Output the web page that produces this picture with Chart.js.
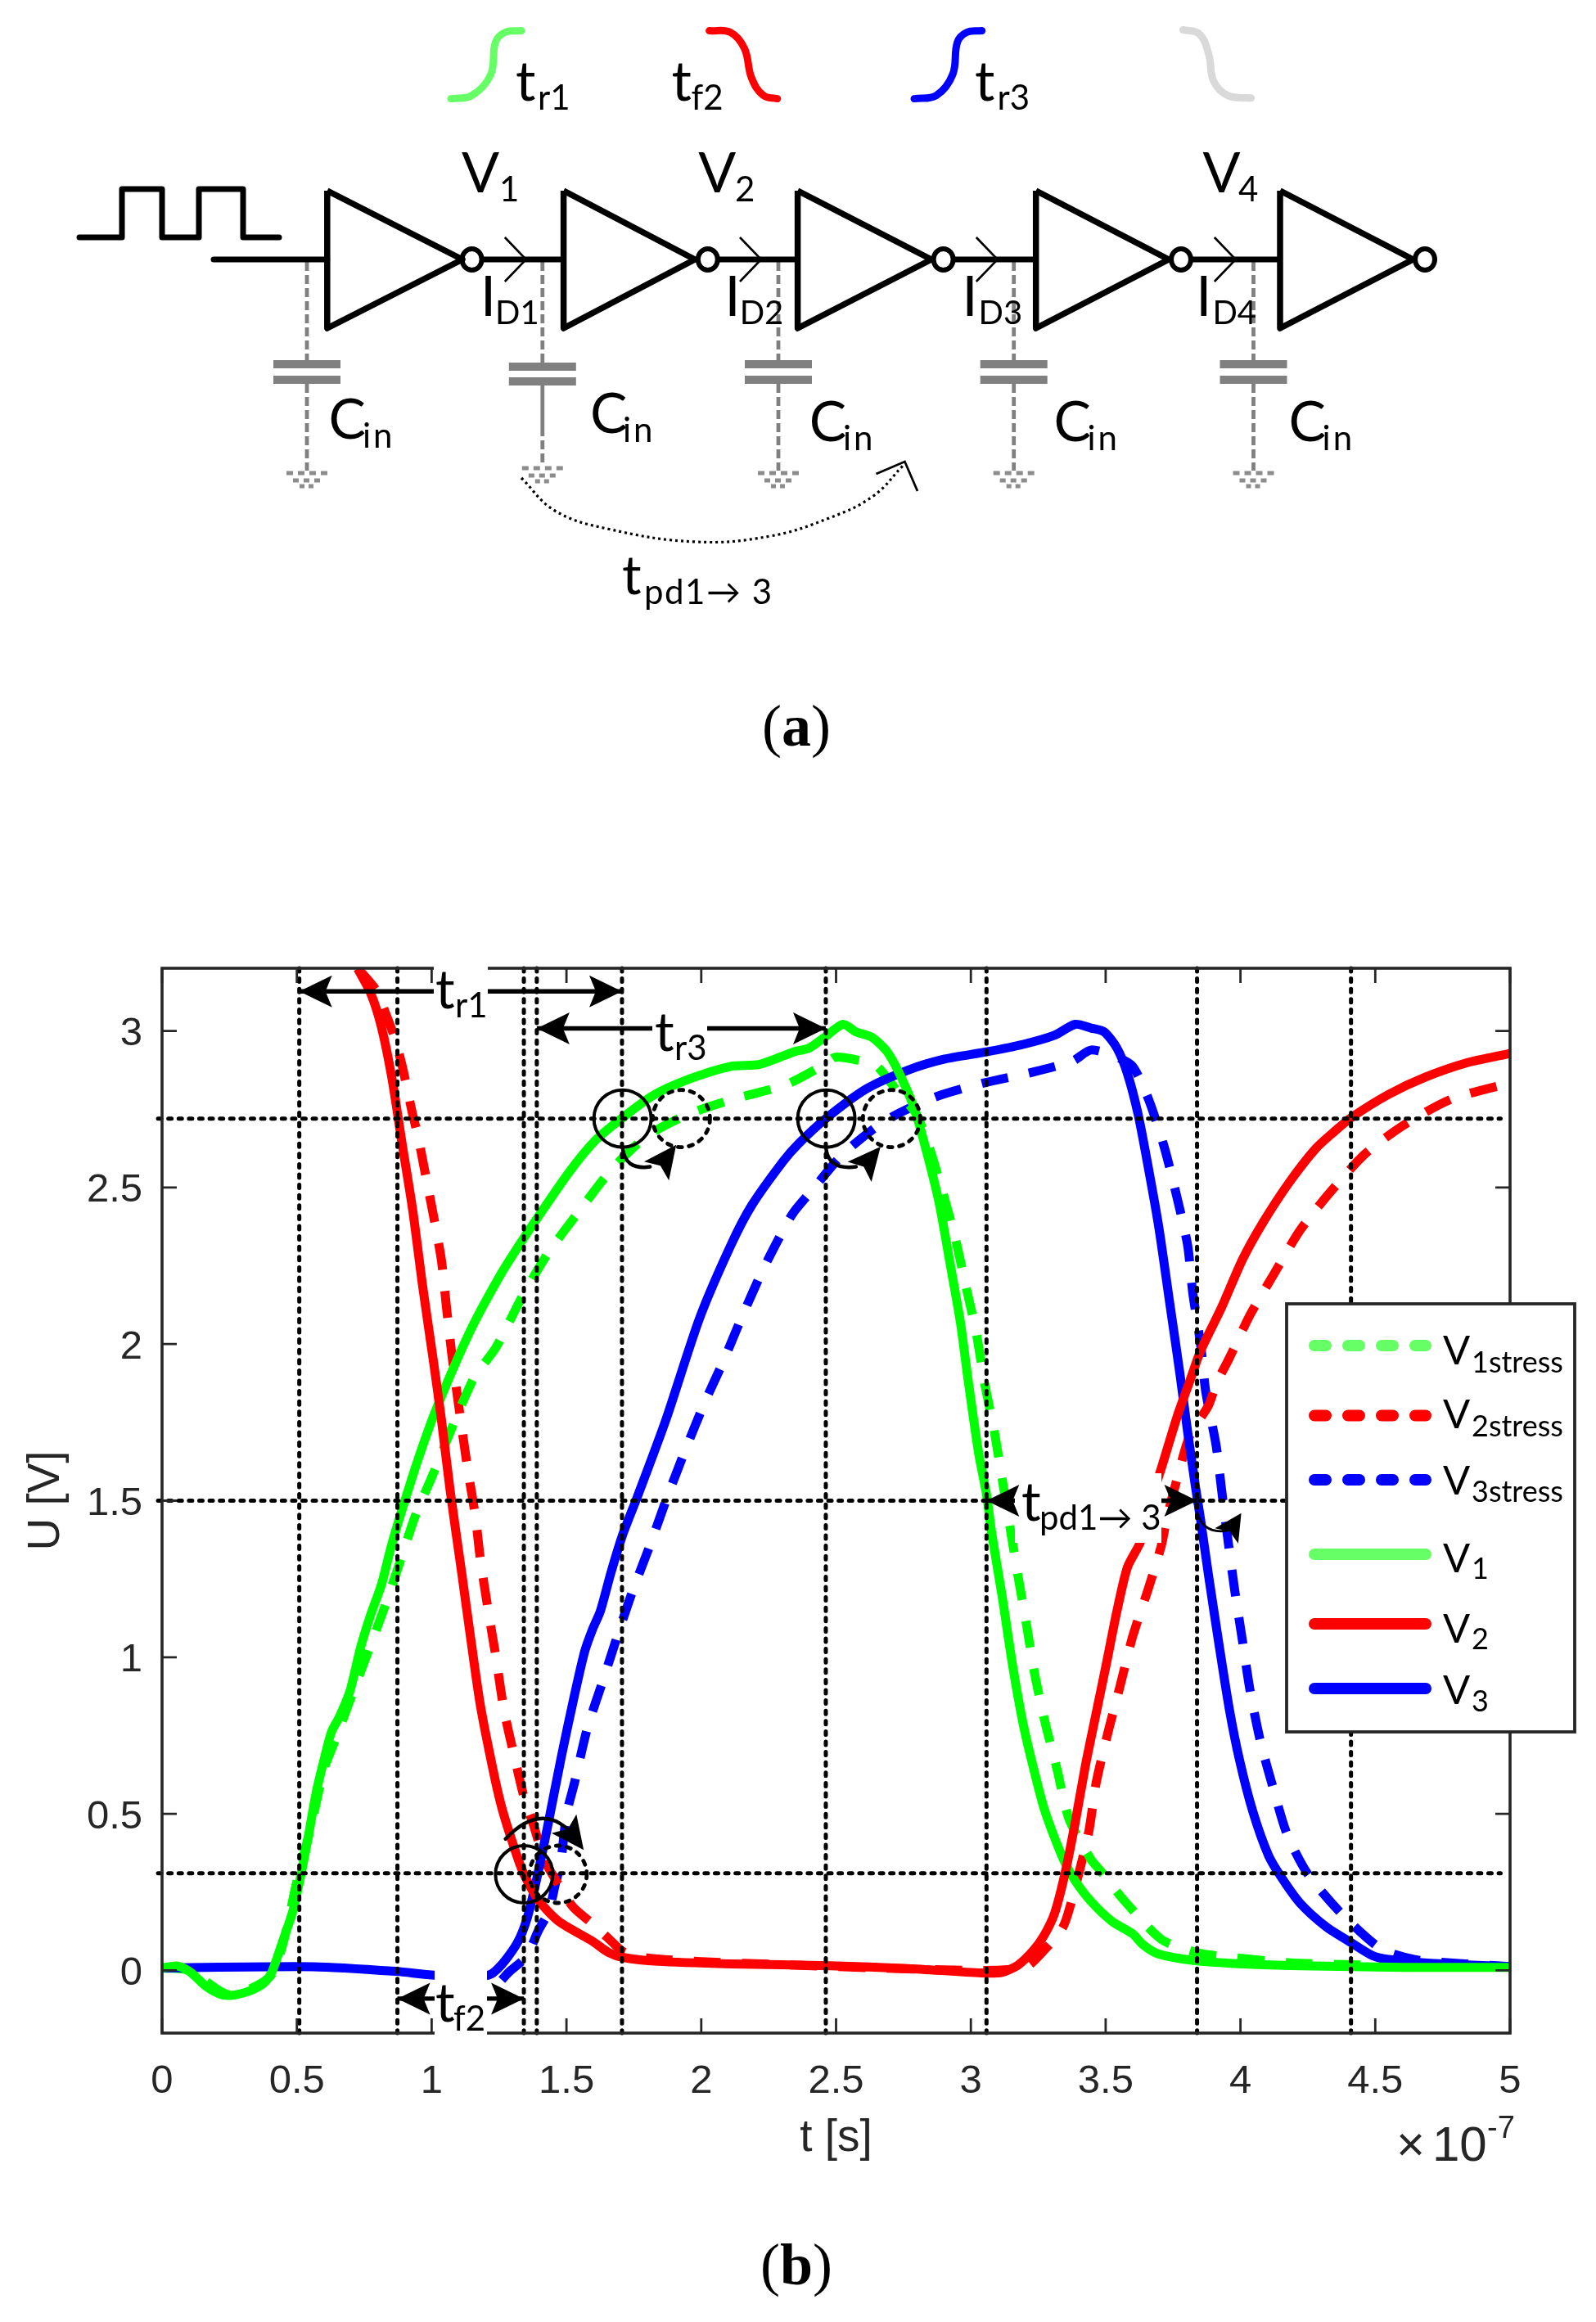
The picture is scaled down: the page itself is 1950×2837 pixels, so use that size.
<!DOCTYPE html>
<html>
<head>
<meta charset="utf-8">
<title>Inverter chain waveforms</title>
<script src="https://cdn.jsdelivr.net/npm/chart.js@4/dist/chart.umd.min.js"></script>
<style>
html,body{margin:0;padding:0;background:#fff}
#wrap{position:relative;width:1950px;height:2837px;overflow:hidden}
canvas{position:absolute;left:0;top:0}
</style>
</head>
<body>
<div id="wrap">
<canvas id="plot" width="1950" height="2837"></canvas>
<canvas id="schem" width="1950" height="950"></canvas>
</div>
<script>
/* ---------- waveform data: time in units of 1e-7 s, voltage in V ---------- */
const xTickValues=[0,0.5,1,1.5,2,2.5,3,3.5,4,4.5,5];
const yTickValues=[0,0.5,1,1.5,2,2.5,3];

const t1=[0,.058,.106,.165,.223,.271,.329,.378,.407,.445,.484,.513,.542,.571,.6,.629,.658,.697,.736,.774,.813,.852,.89,.949,1.016,1.142,1.258,1.342,1.39,1.51,1.607,1.704,1.82,1.955,2.11,2.217,2.343,2.40,2.458,2.526,2.574,2.632,2.69,2.748,2.797,2.845,2.884,2.923,2.961,2.99,3.029,3.058,3.078,3.116,3.155,3.194,3.232,3.271,3.31,3.349,3.387,3.445,3.523,3.6,3.639,3.697,3.833,4.026,4.22,4.607,5];
const u1=[.008,.014,-.006,-.052,-.078,-.078,-.064,-.04,-.006,.087,.186,.297,.425,.565,.67,.763,.81,.892,1.03,1.136,1.23,1.36,1.47,1.63,1.79,2.04,2.225,2.339,2.40,2.549,2.65,2.72,2.793,2.846,2.887,2.893,2.933,2.945,2.98,3.021,2.997,2.98,2.933,2.84,2.735,2.584,2.444,2.257,2.071,1.884,1.651,1.52,1.393,1.195,.973,.787,.647,.519,.425,.344,.286,.221,.157,.117,.082,.052,.031,.02,.015,.01,.01];

const t2=[.726,.774,.813,.852,.89,.929,.968,1.007,1.036,1.069,1.113,1.142,1.181,1.229,1.257,1.287,1.336,1.394,1.471,1.597,1.655,1.713,1.839,2.11,2.477,2.768,3.039,3.116,3.175,3.232,3.271,3.31,3.349,3.387,3.426,3.465,3.504,3.542,3.581,3.63,3.659,3.711,3.765,3.813,3.852,3.93,4.007,4.085,4.18,4.28,4.35,4.414,4.549,4.685,4.84,5];
const u2=[3.198,3.12,3.015,2.852,2.642,2.432,2.176,1.943,1.76,1.53,1.26,1.078,.845,.635,.53,.443,.32,.227,.157,.093,.058,.041,.029,.021,.015,.006,-.008,-.006,.017,.064,.111,.181,.309,.472,.659,.822,.985,1.148,1.288,1.37,1.474,1.616,1.768,1.884,1.978,2.117,2.269,2.39,2.515,2.625,2.68,2.725,2.797,2.852,2.898,2.928];

const t3=[0,.561,.871,1.011,1.21,1.258,1.317,1.355,1.394,1.433,1.481,1.53,1.568,1.597,1.626,1.665,1.708,1.762,1.868,1.994,2.11,2.188,2.304,2.361,2.462,2.613,2.768,2.903,3.058,3.194,3.31,3.387,3.446,3.494,3.542,3.581,3.62,3.659,3.697,3.736,3.775,3.804,3.833,3.852,3.881,3.92,3.959,3.997,4.046,4.104,4.152,4.22,4.317,4.414,4.491,4.549,4.704,5];
const u3=[.008,.012,-.003,-.015,-.015,.017,.087,.169,.309,.472,.682,.88,1.02,1.09,1.148,1.27,1.39,1.51,1.756,2.083,2.316,2.444,2.584,2.64,2.72,2.815,2.875,2.91,2.933,2.957,2.986,3.021,3.009,2.997,2.945,2.863,2.735,2.56,2.374,2.141,1.908,1.72,1.545,1.44,1.265,1.043,.833,.67,.507,.367,.297,.216,.14,.087,.047,.035,.023,.012];

const t1s=[0,.1,.25,.4,.45,.5,.55,.6,.639,.755,.823,.881,.939,.997,1.152,1.239,1.336,1.433,1.539,1.665,1.80,1.955,2.12,2.313,2.458,2.497,2.594,2.652,2.729,2.797,2.845,2.894,2.942,2.981,3.02,3.049,3.087,3.116,3.145,3.175,3.207,3.236,3.275,3.32,3.364,3.445,3.484,3.571,3.707,3.833,3.91,4.22,5];
const u1s=[.008,.0,-.078,-.02,.09,.285,.45,.64,.728,.996,1.154,1.3,1.451,1.568,1.884,1.99,2.152,2.292,2.415,2.555,2.665,2.735,2.782,2.828,2.893,2.916,2.904,2.887,2.805,2.735,2.63,2.49,2.339,2.187,2.036,1.884,1.721,1.57,1.416,1.259,1.101,.95,.793,.641,.484,.355,.315,.221,.099,.058,.047,.023,.01];

const t2s=[.726,.794,.832,.862,.891,.929,.949,.978,1.007,1.036,1.055,1.075,1.104,1.133,1.162,1.181,1.21,1.239,1.268,1.307,1.346,1.375,1.42,1.479,1.525,1.595,1.661,1.71,1.8,2.0,3.0,3.2,3.271,3.339,3.368,3.436,3.465,3.513,3.552,3.6,3.658,3.707,3.726,3.765,3.813,3.881,3.91,3.958,4.036,4.123,4.22,4.327,4.462,4.607,4.782,5];
const u2s=[3.2,3.13,3.05,2.98,2.887,2.735,2.665,2.537,2.409,2.269,2.117,1.966,1.78,1.605,1.451,1.311,1.148,.997,.833,.682,.542,.472,.35,.263,.202,.15,.098,.06,.04,.028,.0,.01,.064,.134,.204,.437,.6,.775,.903,1.066,1.218,1.358,1.44,1.57,1.71,1.803,1.873,1.954,2.094,2.222,2.362,2.479,2.607,2.7,2.782,2.834];

const t3s=[1.26,1.286,1.353,1.394,1.435,1.458,1.479,1.5,1.53,1.578,1.636,1.684,1.743,1.81,1.868,1.936,2.013,2.081,2.149,2.227,2.303,2.342,2.41,2.526,2.681,2.865,3.049,3.233,3.378,3.446,3.542,3.6,3.659,3.717,3.765,3.804,3.823,3.852,3.871,3.91,3.93,3.949,3.978,4.007,4.036,4.075,4.123,4.172,4.249,4.375,4.52,4.646,4.8,5];
const u3s=[-.03,-.006,.046,.124,.19,.273,.346,.497,.6,.775,.927,1.055,1.206,1.358,1.498,1.651,1.814,1.943,2.083,2.234,2.362,2.42,2.49,2.607,2.712,2.788,2.834,2.869,2.904,2.939,2.916,2.887,2.782,2.63,2.467,2.316,2.164,2.0,1.85,1.675,1.535,1.405,1.218,1.055,.892,.728,.577,.437,.309,.181,.07,.035,.023,.012];

/* measurement guides */
const guideTimes=[.509,.873,1.342,1.39,1.706,2.462,3.058,3.839,4.41];
const guideLevels=[2.72,1.5,.31];
const spanArrows=[[.509,1.706,3.126],[1.39,2.462,3.008],[.873,1.342,-.09],[3.058,3.839,1.5]];
const solidCircles=[[1.708,2.72],[2.464,2.72],[1.343,.307]];
const dottedCircles=[[1.926,2.72],[2.706,2.72],[1.469,.307]];
const bentTails=[[1.708,2.63,1.714,2.555,1.81,2.566,4.5],[2.462,2.63,2.468,2.555,2.574,2.566,4.5],[1.274,.42,1.394,.53,1.5,.455,4.5],[3.839,1.463,3.862,1.393,3.949,1.404,2.8]];
const bentHeads=[[1.907,2.636,-53,40,19],[2.665,2.63,-50,40,19],[1.564,.385,53,40,19],[4.003,1.46,-57,33,17]];

const GREEN='#00ff00',RED='#ff0000',BLUE='#0000ff',LGREEN='#66ff66',GREY='#808080',INK='#262626';
const BODY='Lato, "Open Sans", sans-serif';
const SANS='"Liberation Sans", Arial, sans-serif';

function zip(a,b){return a.map((x,i)=>({x:x,y:b[i]}));}
function curve(lbl,ts,us,color,dashed){
  return {label:lbl,data:zip(ts,us),borderColor:color,borderWidth:11,pointRadius:0,tension:.25,
    borderDash:dashed?[33,26]:[],borderCapStyle:'butt',borderJoinStyle:'round',fill:false};
}
function guide(data){
  return {label:'guide',data:data,borderColor:'#000',borderWidth:5,pointRadius:0,tension:0,
    borderDash:[4,8.6],borderCapStyle:'round',clip:false,fill:false};
}
const datasets=[
  ...guideLevels.map(v=>guide([{x:-.015,y:v},{x:4.965,y:v}])),
  ...guideTimes.map(t=>guide([{x:t,y:3.2},{x:t,y:-.2}])),
  curve('V2',t2,u2,RED,false),
  curve('V1',t1,u1,GREEN,false),
  curve('V3',t3,u3,BLUE,false),
  curve('V1stress',t1s,u1s,GREEN,true),
  curve('V2stress',t2s,u2s,RED,true),
  curve('V3stress',t3s,u3s,BLUE,true)
];

function sub(ctx,base,s,x,y,sx,sy,size,ssize,spacing){
  ctx.fillStyle='#000';ctx.textAlign='left';ctx.textBaseline='alphabetic';
  ctx.font=size+'px '+BODY;ctx.fillText(base,x,y);
  ctx.font=ssize+'px '+BODY;
  ctx.letterSpacing=(spacing||0)+'px';
  ctx.fillText(s,sx,sy);
  ctx.letterSpacing='0px';
}
function head(ctx,x,y,deg,L,W){
  ctx.save();ctx.translate(x,y);ctx.rotate(deg*Math.PI/180);
  ctx.fillStyle='#000';ctx.beginPath();ctx.moveTo(0,0);ctx.lineTo(-L,-W);ctx.lineTo(-L*.8,0);ctx.lineTo(-L,W);ctx.closePath();ctx.fill();
  ctx.restore();
}
function parenLabel(ctx,letter,cx,y){
  ctx.fillStyle='#000';ctx.textBaseline='alphabetic';ctx.textAlign='left';
  const reg='72px "Liberation Serif", serif',bold='bold 72px "Liberation Serif", serif';
  ctx.font=reg;const p=ctx.measureText('(').width,q=ctx.measureText(')').width;
  ctx.font=bold;const m=ctx.measureText(letter).width;
  let x=cx-(p+q+m)/2;
  ctx.font=reg;ctx.fillText('(',x,y);x+=p;
  ctx.font=bold;ctx.fillText(letter,x,y);x+=m;
  ctx.font=reg;ctx.fillText(')',x,y);
}

const overlay={id:'overlay',
beforeDraw(c){
  /* MATLAB-style tick digits sit a little lower than the canvas "middle" baseline */
  c.scales.y.getLabelItems(c.chartArea).forEach(i=>{i.textOffset+=4;});
},
afterDatasetsDraw(c){
  const ctx=c.ctx,X=c.scales.x,Y=c.scales.y,a=c.chartArea;
  const px=v=>X.getPixelForValue(v),py=v=>Y.getPixelForValue(v);
  ctx.save();
  /* axes box and inward ticks */
  ctx.strokeStyle=INK;ctx.lineWidth=3.6;ctx.strokeRect(a.left,a.top,a.right-a.left,a.bottom-a.top);
  ctx.lineWidth=2.8;ctx.beginPath();
  xTickValues.forEach(v=>{const x=px(v);ctx.moveTo(x,a.top);ctx.lineTo(x,a.top+18);ctx.moveTo(x,a.bottom);ctx.lineTo(x,a.bottom-18);});
  yTickValues.forEach(v=>{const y=py(v);ctx.moveTo(a.left,y);ctx.lineTo(a.left+18,y);ctx.moveTo(a.right,y);ctx.lineTo(a.right-18,y);});
  ctx.stroke();
  /* span arrows */
  ctx.strokeStyle='#000';ctx.lineWidth=5.4;ctx.beginPath();
  spanArrows.forEach(s=>{ctx.moveTo(px(s[0]),py(s[2]));ctx.lineTo(px(s[1]),py(s[2]));});ctx.stroke();
  /* white text backgrounds */
  ctx.fillStyle='#fff';
  ctx.fillRect(530,1172,66,76);
  ctx.fillRect(797,1235,67,55);
  ctx.fillRect(531,2398,64,92);
  ctx.fillRect(1240,1800,179,85);
  spanArrows.forEach(s=>{const y=py(s[2]);head(ctx,px(s[0]),y,180,40,19.5);head(ctx,px(s[1]),y,0,40,19.5);});
  /* circles */
  ctx.strokeStyle='#000';ctx.lineWidth=4;
  solidCircles.forEach(p=>{ctx.beginPath();ctx.arc(px(p[0]),py(p[1]),35,0,7);ctx.stroke();});
  ctx.lineWidth=4.8;ctx.setLineDash([5,8.5]);ctx.lineCap='round';
  dottedCircles.forEach(p=>{ctx.beginPath();ctx.arc(px(p[0]),py(p[1]),35,0,7);ctx.stroke();});
  ctx.setLineDash([]);
  bentTails.forEach(b=>{ctx.lineWidth=b[6];ctx.beginPath();ctx.moveTo(px(b[0]),py(b[1]));ctx.quadraticCurveTo(px(b[2]),py(b[3]),px(b[4]),py(b[5]));ctx.stroke();});
  ctx.lineCap='butt';
  bentHeads.forEach(h=>head(ctx,px(h[0]),py(h[1]),h[2],h[3],h[4]));
  /* annotation labels */
  sub(ctx,'t','r1',532,1232,556,1243,66,42);
  sub(ctx,'t','r3',800,1284,824,1295,66,42);
  sub(ctx,'t','f2',532,2470,554,2481,66,42);
  sub(ctx,'t','pd1→ 3',1248,1858,1270,1869,66,42);
  /* legend */
  ctx.fillStyle='#fff';ctx.fillRect(1572,1593,352,523);
  ctx.strokeStyle=INK;ctx.lineWidth=3.8;ctx.strokeRect(1572,1593,352,523);
  const rows=[['1stress',LGREEN,true,1644,1667,1677],['2stress',RED,true,1729.5,1745,1755],['3stress',BLUE,true,1808,1826,1835],
              ['1',LGREEN,false,1899,1920.5,1929],['2',RED,false,1984,2006.5,2015],['3',BLUE,false,2063,2082,2091]];
  rows.forEach(r=>{
    ctx.strokeStyle=r[1];ctx.lineWidth=14;ctx.lineCap='round';ctx.setLineDash(r[2]?[14,27]:[]);
    ctx.beginPath();ctx.moveTo(1606,r[3]);ctx.lineTo(1742,r[3]);ctx.stroke();
    ctx.setLineDash([]);ctx.lineCap='butt';
    sub(ctx,'V',r[0],1763,r[4],1798,r[5],49,36);
  });
  /* sub-figure label */
  parenLabel(ctx,'b',973,2791);
  ctx.restore();
}};

new Chart(document.getElementById('plot'),{
  type:'line',
  data:{datasets:datasets},
  options:{
    responsive:false,animation:false,events:[],
    layout:{padding:{left:0,top:1183,right:105,bottom:153}},
    plugins:{legend:{display:false},tooltip:{enabled:false},title:{display:false}},
    scales:{
      x:{type:'linear',min:0,max:5,
        grid:{display:false,drawTicks:false},border:{display:false},
        afterBuildTicks:s=>{s.ticks=xTickValues.map(v=>({value:v}));},
        afterFit:s=>{s.height=200;},
        ticks:{autoSkip:false,maxRotation:0,padding:30,color:INK,font:{family:SANS,size:49},callback:v=>String(v)},
        title:{display:true,text:'t [s]',color:INK,font:{family:SANS,size:55},padding:{top:0,bottom:38}}
      },
      y:{type:'linear',min:-.2,max:3.2,
        grid:{display:false,drawTicks:false},border:{display:false},
        afterBuildTicks:s=>{s.ticks=yTickValues.map(v=>({value:v}));},
        afterFit:s=>{s.width=198;},
        ticks:{autoSkip:false,padding:24,color:INK,font:{family:SANS,size:49},callback:v=>String(v)},
        title:{display:true,text:'U [V]',color:INK,font:{family:SANS,size:55},padding:{top:24,bottom:0}}
      }
    }
  },
  plugins:[{id:'exp',afterDraw(c){
    const ctx=c.ctx;ctx.save();ctx.fillStyle=INK;ctx.textAlign='left';ctx.textBaseline='alphabetic';
    ctx.font='60px '+SANS;ctx.fillText('×',1706,2640);ctx.fillText('10',1750,2640);
    ctx.font='38px '+SANS;ctx.fillText('-7',1817,2612);
    ctx.restore();
  }},overlay]
});

/* ---------- schematic (page pixels, drawn by a pixel-scaled chart) ---------- */
const inverterLeft=[399.8,688.6,974.6,1265.7,1564];
const inverterTip=[565,849,1138,1428,1726.6];
const bubbleX=[576.6,864.8,1152.6,1443,1741];
const capX=[375,662.8,951,1238.7,1531.5];
const chevronX=[616.8,904,1192.8,1483.8];
const pulseX=[97,149,149,198,198,243,243,297,297,341];
const pulseY=[290,290,231,231,290,290,231,231,290,290];
const wireY=317;
const greenS=[[551,120.6],[576.6,116.6],[599.6,91],[605.4,51.4],[617,39.5],[637,37.6]];
const redS=[[866.6,37.6],[892.4,39.5],[909.6,59.3],[918.2,95],[932.6,116.6],[949.8,120.6]];
const blueS=[[1117,120.6],[1144,116.6],[1164,91],[1169.8,51.4],[1181.3,39.5],[1199.7,37.6]];
const greyS=[[1445.4,36.4],[1465.4,41.5],[1477,67],[1482.7,98.9],[1499.9,116.6],[1528.6,119.8]];
const delayArc=[[637,584],[678,624],[742,646],[850,662],[941,655],[1013,633],[1067,606],[1104,568]];

const pts=l=>l.map(p=>({x:p[0],y:p[1]}));
const seg=(l,color,w,extra)=>Object.assign({data:pts(l),borderColor:color,borderWidth:w,pointRadius:0,tension:0,borderCapStyle:'butt',borderJoinStyle:'miter',fill:false,clip:false},extra||{});
const ds=[];
ds.push(seg(pulseX.map((x,i)=>[x,pulseY[i]]),'#000',7,{borderCapStyle:'round',borderJoinStyle:'round'}));
ds.push(seg([[261,wireY],[inverterLeft[0],wireY]],'#000',7,{borderCapStyle:'round'}));
inverterLeft.forEach((l,i)=>{
  ds.push(seg([[l,233],[inverterTip[i],wireY],[l,401],[l,233]],'#000',7.5,{borderJoinStyle:'round'}));
  if(i<4) ds.push(seg([[bubbleX[i]+14,wireY],[inverterLeft[i+1],wireY]],'#000',7));
});
chevronX.forEach(x=>ds.push(seg([[x,290],[x+26,wireY],[x,344]],'#000',2.6)));
capX.forEach((x,i)=>{
  const top=i===1?443:440, gap=i===1?461:459;
  ds.push(seg([[x,320],[x,top]],GREY,4.8,{borderDash:[11,5]}));
  ds.push(seg([[x-41,top+5],[x+41,top+5]],GREY,10));
  ds.push(seg([[x-41,gap+5],[x+41,gap+5]],GREY,10));
  if(i===1){ds.push(seg([[x,gap+10],[x,522]],GREY,4.8));ds.push(seg([[x,522],[x,569]],GREY,4.8,{borderDash:[11,5]}));}
  else ds.push(seg([[x,gap+10],[x,575]],GREY,4.8,{borderDash:[11,5]}));
  const g=i===1?-6:0;
  ds.push(seg([[x-25,578+g],[x+26,578+g]],'#8c8c8c',5,{borderDash:[8,6]}));
  ds.push(seg([[x-17,587+g],[x+17,587+g]],'#8c8c8c',5,{borderDash:[7,6]}));
  ds.push(seg([[x-9,594+g],[x+9,594+g]],'#8c8c8c',5,{borderDash:[6,5]}));
});
ds.push(seg(greenS,LGREEN,9,{tension:.4,borderCapStyle:'round'}));
ds.push(seg(redS,RED,9,{tension:.4,borderCapStyle:'round'}));
ds.push(seg(blueS,BLUE,9,{tension:.4,borderCapStyle:'round'}));
ds.push(seg(greyS,'#d9d9d9',9,{tension:.4,borderCapStyle:'round'}));
ds.push(seg(delayArc,'#000',3.2,{tension:.4,borderDash:[3,4]}));
ds.push(seg([[1070.5,579],[1105.5,564],[1121,600]],'#000',2.8));

const schemLabels={id:'schemLabels',afterDatasetsDraw(c){
  const ctx=c.ctx;ctx.save();
  ctx.strokeStyle='#000';ctx.lineWidth=6;
  bubbleX.forEach(x=>{ctx.beginPath();ctx.ellipse(x,wireY,12,13,0,0,7);ctx.stroke();});
  sub(ctx,'t','r1',630,123,657,134.4,68,42);
  sub(ctx,'t','f2',820.5,123,844.6,134.4,68,42);
  sub(ctx,'t','r3',1191,123,1218.5,134.4,68,42);
  sub(ctx,'V','1',564,235,610,246,68,42);
  sub(ctx,'V','2',853.3,235,898,246,68,42);
  sub(ctx,'V','4',1469.5,235,1513,246,68,42);
  [[587,605,'D1'],[885.4,903.7,'D2'],[1175.4,1195.5,'D3'],[1461.3,1481.4,'D4']].forEach(r=>sub(ctx,'I',r[2],r[0],385.5,r[1],396,68,40));
  [[401.4,443,535.8,546.5],[721,761,528.7,539.7],[988.8,1030,539,549.6],[1287.4,1328.5,539,549.6],[1574.4,1615.6,539,549.6]]
    .forEach(r=>sub(ctx,'C','in',r[0],r[2],r[1],r[3],68,42,3));
  sub(ctx,'t','pd1→ 3',760,726,787,738,66,42,1.5);
  parenLabel(ctx,'a',973,911);
  ctx.restore();
}};
new Chart(document.getElementById('schem'),{
  type:'line',
  data:{datasets:ds},
  options:{responsive:false,animation:false,events:[],
    layout:{padding:0},
    plugins:{legend:{display:false},tooltip:{enabled:false}},
    scales:{x:{type:'linear',min:0,max:1950,display:false},y:{type:'linear',min:0,max:950,reverse:true,display:false}}
  },
  plugins:[schemLabels]
});
</script>
</body>
</html>
